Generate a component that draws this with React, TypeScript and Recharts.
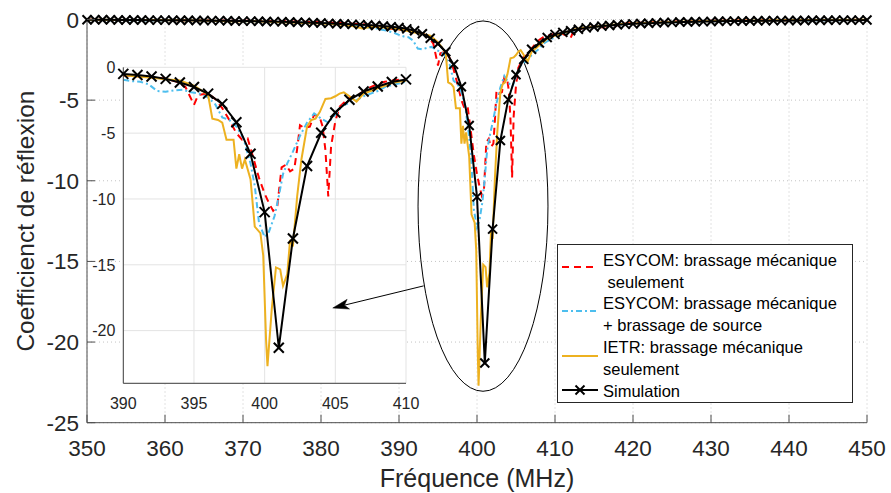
import React from 'react';
import { LineChart, Line, XAxis, YAxis, CartesianGrid, Legend, ReferenceArea, ReferenceLine, Label } from 'recharts';

const FONT = '"Liberation Sans", Arial, Helvetica, sans-serif';
const AXIS = '#4d4d4d';
const TEXT = '#262626';
const RED = '#ff0000';
const BLUE = '#4dbeee';
const ORANGE = '#edb120';
const BLACK = '#000000';

// ---- tick labels ----
const mainXTicks = [350, 360, 370, 380, 390, 400, 410, 420, 430, 440, 450];
const mainYTicks = [-25, -20, -15, -10, -5, 0];
const insetXTicks = [390, 395, 400, 405, 410];
const insetYTicks = [-20, -15, -10, -5, 0];

// ---- Simulation (every 1 MHz) ----
const simFreq = [
  350, 351, 352, 353, 354, 355, 356, 357, 358, 359,
  360, 361, 362, 363, 364, 365, 366, 367, 368, 369,
  370, 371, 372, 373, 374, 375, 376, 377, 378, 379,
  380, 381, 382, 383, 384, 385, 386, 387, 388, 389,
  390, 391, 392, 393, 394, 395, 396, 397, 398, 399,
  400, 401, 402, 403, 404, 405, 406, 407, 408, 409,
  410, 411, 412, 413, 414, 415, 416, 417, 418, 419,
  420, 421, 422, 423, 424, 425, 426, 427, 428, 429,
  430, 431, 432, 433, 434, 435, 436, 437, 438, 439,
  440, 441, 442, 443, 444, 445, 446, 447, 448, 449, 450,
];
const simVal = [
  -0.02, -0.02, -0.02, -0.02, -0.03, -0.03, -0.03, -0.03, -0.04, -0.04,
  -0.04, -0.05, -0.05, -0.05, -0.06, -0.06, -0.07, -0.07, -0.08, -0.09,
  -0.1, -0.1, -0.11, -0.12, -0.13, -0.14, -0.15, -0.17, -0.18, -0.2,
  -0.22, -0.24, -0.26, -0.28, -0.3, -0.32, -0.34, -0.37, -0.4, -0.45,
  -0.5, -0.58, -0.7, -0.88, -1.16, -1.5, -2.0, -2.78, -4.17, -6.57,
  -11.0, -21.3, -13.0, -7.5, -4.97, -3.43, -2.47, -1.84, -1.46, -1.12,
  -0.92, -0.8, -0.7, -0.6, -0.52, -0.46, -0.41, -0.37, -0.33, -0.3,
  -0.27, -0.25, -0.23, -0.21, -0.19, -0.18, -0.16, -0.15, -0.14, -0.13,
  -0.12, -0.11, -0.1, -0.1, -0.09, -0.09, -0.08, -0.08, -0.07, -0.07,
  -0.06, -0.06, -0.06, -0.05, -0.05, -0.05, -0.04, -0.04, -0.04, -0.04, -0.03,
];

// ---- ESYCOM: brassage mécanique seulement ----
const redFreq = [
  350, 355, 360, 365, 370, 374, 377, 380, 382, 384, 385.5, 387, 388.5, 389.5,
  390, 391, 392, 393, 393.8, 394.4, 394.8, 395, 395.3, 396, 396.5, 397, 397.5,
  398, 398.4, 398.8, 399.2, 399.6, 400, 400.3, 400.6, 400.9, 401.2, 401.5, 401.8,
  402.1, 402.3, 402.5, 402.8, 403.2, 403.5, 403.9, 404.1, 404.3, 404.5, 404.7,
  405, 405.3, 405.7, 406, 406.5, 407, 407.5, 408, 408.5, 409, 409.5, 410, 410.5,
  411, 411.5, 412, 412.4, 413, 414, 415, 416, 417, 418, 419, 420, 423, 426, 430,
  435, 440, 445, 450,
];
const redVal = [
  -0.02, -0.03, -0.04, -0.06, -0.08, -0.1, -0.13, -0.17, -0.2, -0.26, -0.3, -0.4, -0.55, -0.6,
  -0.62, -0.68, -0.75, -0.85, -1.1, -1.5, -2.4, -2.85, -2.1, -2.0, -2.4, -3.1, -4.0,
  -5.0, -5.5, -5.4, -6.9, -8.4, -9.6, -10.3, -10.9, -10.5, -7.6, -7.4, -7.9,
  -7.7, -6.2, -4.4, -4.6, -4.5, -3.6, -3.8, -4.5, -6.3, -9.8, -6.0,
  -4.1, -3.0, -2.6, -2.3, -2.2, -1.8, -1.5, -1.25, -1.1, -1.0, -0.95, -0.9, -0.85,
  -0.9, -1.0, -1.15, -0.7, -0.6, -0.5, -0.42, -0.5, -0.35, -0.35, -0.25, -0.22, -0.16, -0.12, -0.08,
  -0.06, -0.04, -0.03, -0.02,
];

// ---- ESYCOM: brassage mécanique + brassage de source ----
const blueFreq = [
  350, 356, 362, 368, 373, 377, 380, 382, 384, 385.5, 387, 388.5, 389.5,
  390, 390.6, 391.2, 391.8, 392.4, 393, 393.6, 394.2, 394.8, 395.4, 396, 396.5,
  397, 397.5, 398, 398.5, 399, 399.3, 399.6, 400, 400.3, 400.7, 401, 401.3, 401.6,
  402, 402.5, 403, 403.5, 404, 404.5, 405, 405.5, 406, 406.5, 407, 407.5, 408,
  408.5, 409, 410, 411, 412, 413, 414, 416, 418, 420, 423, 427, 432, 438, 444, 450,
];
const blueVal = [
  -0.03, -0.05, -0.07, -0.1, -0.14, -0.18, -0.22, -0.27, -0.35, -0.45, -0.55, -0.7, -0.85,
  -0.95, -1.05, -1.1, -1.3, -1.8, -1.85, -1.75, -1.7, -1.9, -2.0, -2.3, -2.8,
  -3.8, -4.0, -4.5, -5.4, -7.3, -9.0, -11.8, -12.9, -12.5, -11.3, -9.8, -8.1, -7.3,
  -6.4, -5.2, -4.2, -3.5, -3.9, -4.2, -3.6, -2.9, -2.7, -2.5, -2.2, -2.0, -1.8,
  -1.5, -1.35, -1.1, -0.9, -0.75, -0.6, -0.5, -0.4, -0.33, -0.27, -0.2, -0.15, -0.1, -0.07, -0.05, -0.03,
];

// ---- IETR: brassage mécanique seulement ----
const orangeFreq = [
  350, 356, 362, 366, 369, 371, 374, 377, 380, 382, 384, 385.3, 386.5, 388, 389,
  390, 391, 392, 393, 394, 395, 395.6, 396, 396.3, 396.7, 397, 397.3, 397.8, 398,
  398.2, 398.4, 398.6, 399, 399.3, 399.7, 399.9, 400.1, 400.2, 400.5, 400.8, 401.1,
  401.3, 401.6, 401.8, 402, 402.3, 402.6, 403, 403.3, 403.6, 403.9, 404.3, 404.7,
  405, 405.3, 405.6, 406, 406.5, 407, 407.5, 408, 408.5, 409, 410, 411, 412, 413,
  414, 416, 418, 420, 423, 427, 432, 438, 444, 450,
];
const orangeVal = [
  -0.02, -0.03, -0.05, -0.08, -0.12, -0.1, -0.15, -0.2, -0.25, -0.3, -0.4, -0.55, -0.45, -0.5, -0.55,
  -0.6, -0.7, -0.8, -0.9, -1.0, -1.4, -1.8, -2.1, -3.9, -4.0, -4.2, -5.5, -5.5, -7.7,
  -6.6, -7.7, -7.0, -8.5, -12.1, -12.6, -14.3, -20.7, -22.7, -18.4, -15.2, -15.35,
  -16.6, -15.7, -13.1, -13.6, -9.8, -7.0, -4.5, -4.0, -3.9, -3.4, -2.4, -2.35,
  -2.2, -2.0, -1.9, -2.2, -2.6, -2.0, -1.8, -1.6, -1.4, -1.2, -1.0, -0.85, -0.7, -0.55,
  -0.5, -0.4, -0.3, -0.25, -0.18, -0.12, -0.08, -0.05, -0.03, -0.02,
];

// ---- annotations (data coordinates) ----
const ellipseX = [392.44, 409.1];
const ellipseY = [-23.05, -0.09];
const arrowFrom = { x: 411.25, y: -16.6 };
const arrowTo = { x: 404.82, y: -18.28 };

const legendLines = [
  ['ESYCOM: brassage mécanique', ' seulement'],
  ['ESYCOM: brassage mécanique', '+ brassage de source'],
  ['IETR: brassage mécanique', 'seulement'],
  ['Simulation'],
];

const zip = (f: number[], v: number[]) => f.map((x, i) => ({ f: x, v: v[i] }));
const simData = zip(simFreq, simVal);
const redData = zip(redFreq, redVal);
const blueData = zip(blueFreq, blueVal);
const orangeData = zip(orangeFreq, orangeVal);
const clip = (d: { f: number; v: number }[]) => d.filter((p) => p.f >= 390 && p.f <= 410);

const series = [
  { key: 'red', data: redData, color: RED, dash: '7 5', name: legendLines[0].join(' ') },
  { key: 'blue', data: blueData, color: BLUE, dash: '6 3 2 3', name: legendLines[1].join(' ') },
  { key: 'orange', data: orangeData, color: ORANGE, dash: undefined, name: legendLines[2].join(' ') },
];

const makeCross = (s: number) => (p: any) => {
  const { cx, cy, index } = p;
  if (cx == null || cy == null) return <g key={`n${index}`} />;
  return (
    <g key={`c${index}`}>
      <line x1={cx - s} y1={cy - s} x2={cx + s} y2={cy + s} stroke={BLACK} strokeWidth={2} />
      <line x1={cx - s} y1={cy + s} x2={cx + s} y2={cy - s} stroke={BLACK} strokeWidth={2} />
    </g>
  );
};

const MainXTick = (p: any) => (
  <g>
    <line x1={p.x} y1={p.y} x2={p.x} y2={p.y - 8} stroke={AXIS} />
    <text x={p.x} y={p.y + 33.3} textAnchor="middle" fontSize={22.5} fontFamily={FONT} fill={TEXT}>
      {p.payload.value}
    </text>
  </g>
);
const MainYTick = (p: any) => (
  <g>
    <line x1={p.x} y1={p.y} x2={p.x + 8} y2={p.y} stroke={AXIS} />
    <text x={p.x - 8} y={p.y + 8} textAnchor="end" fontSize={22.5} fontFamily={FONT} fill={TEXT}>
      {p.payload.value}
    </text>
  </g>
);
const TopTick = (p: any) => <line x1={p.x} y1={p.y} x2={p.x} y2={p.y + 8} stroke={AXIS} />;
const RightTick = (p: any) => <line x1={p.x} y1={p.y} x2={p.x - 8} y2={p.y} stroke={AXIS} />;

const InsetXTick = (p: any) => (
  <text x={p.x} y={p.y + 25.7} textAnchor="middle" fontSize={16} fontFamily={FONT} fill={TEXT}>
    {p.payload.value}
  </text>
);
const InsetYTick = (p: any) => (
  <text x={p.x - 8} y={p.y + 5.8} textAnchor="end" fontSize={16} fontFamily={FONT} fill={TEXT}>
    {p.payload.value}
  </text>
);

const EllipseShape = (p: any) => (
  <ellipse
    cx={p.x + p.width / 2}
    cy={p.y + p.height / 2}
    rx={Math.abs(p.width) / 2}
    ry={Math.abs(p.height) / 2}
    fill="none"
    stroke="#000"
    strokeWidth={1}
  />
);

const ArrowShape = (p: any) => {
  const { x1, y1, x2, y2 } = p;
  const dx = x2 - x1;
  const dy = y2 - y1;
  const L = Math.hypot(dx, dy) || 1;
  const ux = dx / L;
  const uy = dy / L;
  const nx = -uy;
  const ny = ux;
  const hl = 16;
  const hw = 5;
  const notch = 4;
  const bx = x2 - ux * hl;
  const by = y2 - uy * hl;
  const mx = x2 - ux * (hl - notch);
  const my = y2 - uy * (hl - notch);
  const d = `M${x2},${y2} L${bx + nx * hw},${by + ny * hw} L${mx},${my} L${bx - nx * hw},${by - ny * hw} Z`;
  return (
    <g>
      <line x1={x1} y1={y1} x2={mx} y2={my} stroke="#000" strokeWidth={1} />
      <path d={d} fill="#000" stroke="#000" strokeWidth={0.5} />
    </g>
  );
};

const LegendBox = () => {
  const sampleY = [23, 67, 112, 146];
  const baselines = [[22, 43.5], [65, 87], [109, 130.5], [153]];
  const styles = [
    { color: RED, dash: '7 5' },
    { color: BLUE, dash: '6 3 2 3' },
    { color: ORANGE, dash: undefined },
    { color: BLACK, dash: undefined },
  ];
  return (
    <svg width={296} height={159} style={{ display: 'block' }}>
      <rect x={0.5} y={0.5} width={295} height={158} fill="#fff" stroke="#262626" strokeWidth={1} />
      {legendLines.map((lines, i) => (
        <g key={i}>
          <line
            x1={5}
            x2={41}
            y1={sampleY[i]}
            y2={sampleY[i]}
            stroke={styles[i].color}
            strokeWidth={2}
            strokeDasharray={styles[i].dash}
          />
          {i === 3 && makeCross(4.5)({ cx: 23, cy: sampleY[i], index: 0 })}
          {lines.map((t, j) => (
            <text
              key={j}
              x={46}
              y={baselines[i][j]}
              fontSize={16.5}
              fontFamily={FONT}
              fill="#000"
              style={{ whiteSpace: 'pre' }}
            >
              {t}
            </text>
          ))}
        </g>
      ))}
    </svg>
  );
};

const YLabelContent = (p: any) => {
  const vb = p.viewBox || { x: 0, y: 0, width: 0, height: 0 };
  const x = vb.x + 34;
  const y = vb.y + vb.height / 2;
  return (
    <text
      x={x}
      y={y}
      transform={`rotate(-90 ${x} ${y})`}
      textAnchor="middle"
      fontSize={24.5}
      fontFamily={FONT}
      fill={TEXT}
    >
      Coefficienct de réflexion
    </text>
  );
};
const XLabelContent = (p: any) => {
  const vb = p.viewBox || { x: 0, y: 0, width: 0, height: 0 };
  return (
    <text x={vb.x + vb.width / 2} y={vb.y + 64.3} textAnchor="middle" fontSize={25} fontFamily={FONT} fill={TEXT}>
      Fréquence (MHz)
    </text>
  );
};

export default function App() {
  return (
    <div style={{ position: 'fixed', left: 0, top: 0, width: 891, height: 493, background: '#fff', overflow: 'hidden' }}>
      <div style={{ position: 'absolute', left: 0, top: 0 }}>
        <LineChart width={891} height={493} margin={{ top: 19.5, right: 24, bottom: 0, left: 0 }}>
          <CartesianGrid stroke="#c4c4c4" strokeDasharray="1 3" />
          <XAxis
            dataKey="f"
            type="number"
            domain={[350, 450]}
            ticks={mainXTicks}
            height={70.3}
            tickSize={0}
            tickMargin={0}
            tickLine={false}
            tick={MainXTick}
            axisLine={{ stroke: AXIS }}
            interval={0}
          >
            <Label content={XLabelContent} />
          </XAxis>
          <XAxis
            xAxisId="top"
            orientation="top"
            dataKey="f"
            type="number"
            domain={[350, 450]}
            ticks={mainXTicks}
            height={0}
            tickSize={0}
            tickMargin={0}
            tickLine={false}
            tick={TopTick}
            axisLine={{ stroke: AXIS }}
            interval={0}
          />
          <YAxis
            type="number"
            domain={[-25, 0]}
            ticks={mainYTicks}
            width={87}
            tickSize={0}
            tickMargin={0}
            tickLine={false}
            tick={MainYTick}
            axisLine={{ stroke: AXIS }}
            interval={0}
          >
            <Label content={YLabelContent} />
          </YAxis>
          <YAxis
            yAxisId="right"
            orientation="right"
            type="number"
            domain={[-25, 0]}
            ticks={mainYTicks}
            width={0}
            tickSize={0}
            tickMargin={0}
            tickLine={false}
            tick={RightTick}
            axisLine={{ stroke: AXIS }}
            interval={0}
          />
          {series.map((s) => (
            <Line
              key={s.key}
              data={s.data}
              dataKey="v"
              name={s.name}
              type="linear"
              stroke={s.color}
              strokeWidth={2}
              strokeDasharray={s.dash}
              dot={false}
              activeDot={false}
              isAnimationActive={false}
            />
          ))}
          <Line
            data={simData}
            dataKey="v"
            name="Simulation"
            type="linear"
            stroke={BLACK}
            strokeWidth={2}
            dot={makeCross(4.5)}
            activeDot={false}
            isAnimationActive={false}
          />
          <ReferenceArea
            x1={ellipseX[0]}
            x2={ellipseX[1]}
            y1={ellipseY[0]}
            y2={ellipseY[1]}
            ifOverflow="visible"
            shape={EllipseShape}
          />
          <Legend
            layout="vertical"
            align="center"
            verticalAlign="middle"
            content={LegendBox}
            wrapperStyle={{ left: 557, top: 244, width: 296, height: 159 }}
          />
        </LineChart>
      </div>
      <div style={{ position: 'absolute', left: 80, top: 55 }}>
        <LineChart width={350} height={365} margin={{ top: 12.3, right: 24, bottom: 0, left: 0 }}>
          <CartesianGrid stroke="#e3e3e3" fill="#ffffff" fillOpacity={1} />
          <XAxis
            dataKey="f"
            type="number"
            domain={[390, 410]}
            ticks={insetXTicks}
            height={36.7}
            tickSize={0}
            tickMargin={0}
            tickLine={false}
            tick={InsetXTick}
            axisLine={{ stroke: '#404040' }}
            interval={0}
          />
          <YAxis
            type="number"
            domain={[-24, 0]}
            ticks={insetYTicks}
            width={43.3}
            tickSize={0}
            tickMargin={0}
            tickLine={false}
            tick={InsetYTick}
            axisLine={{ stroke: '#404040' }}
            interval={0}
          />
          {series.map((s) => (
            <Line
              key={s.key}
              data={clip(s.data)}
              dataKey="v"
              type="linear"
              stroke={s.color}
              strokeWidth={2}
              strokeDasharray={s.dash}
              dot={false}
              activeDot={false}
              isAnimationActive={false}
            />
          ))}
          <Line
            data={clip(simData)}
            dataKey="v"
            type="linear"
            stroke={BLACK}
            strokeWidth={2}
            dot={makeCross(5)}
            activeDot={false}
            isAnimationActive={false}
          />
          <ReferenceLine segment={[arrowFrom, arrowTo]} ifOverflow="visible" shape={ArrowShape} />
        </LineChart>
      </div>
    </div>
  );
}
